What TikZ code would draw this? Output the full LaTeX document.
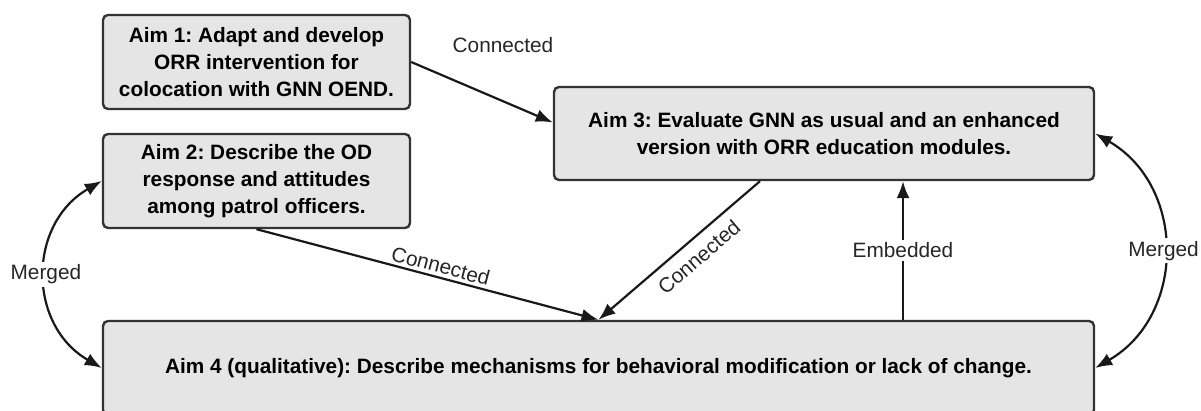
\documentclass[tikz,border=0pt]{standalone}
\usepackage{fontspec}
\setmainfont{Liberation Sans}
\frenchspacing
\usetikzlibrary{arrows.meta}
\begin{document}
\begin{tikzpicture}[x=0.5pt,y=0.5pt,>={Latex[length=8.5pt,width=6.5pt]},
        aim/.style={draw=black!80,line width=1.2pt,fill=black!10,rounded corners=2.5pt,
                align=center,inner sep=0pt,font=\bfseries\fontsize{10.4}{13.4}\selectfont},
        lbl/.style={text=black!85,inner sep=1.5pt,font=\fontsize{10.4}{13.4}\selectfont},
        link/.style={->,line width=1.1pt,black!90}]
        % fix the page to the picture
        \useasboundingbox (0,0) rectangle (1201,411);
        \clip (0,0) rectangle (1201,411);

        % draw the aims
        \node[aim,minimum width=153.5pt,minimum height=47pt] (aim1) at (256.5,349)
                {Aim 1: Adapt and develop\\ORR intervention for\\colocation with GNN OEND.};
        \node[aim,minimum width=153.5pt,minimum height=47pt] (aim2) at (256.5,230)
                {Aim 2: Describe the OD\\response and attitudes\\among patrol officers.};
        \node[aim,minimum width=270pt,minimum height=46.5pt] (aim3) at (824,277.5)
                {Aim 3: Evaluate GNN as usual and an enhanced\\version with ORR education modules.};
        \node[aim,minimum width=495.5pt,minimum height=47pt] (aim4) at (598.5,43)
                {Aim 4 (qualitative): Describe mechanisms for behavioral modification or lack of change.};

        % draw the links
        \draw[link] (aim1.east) -- ([yshift=5.5pt]aim3.west);
        \node[lbl] (c1) at (503,366) {Connected};
        \draw[link] (aim2.south) -- node[lbl,sloped,above,pos=0.53] (c2) {Connected} (aim4.north);
        \draw[link] ([xshift=-32pt]aim3.south) -- node[lbl,sloped,below=3pt,pos=0.45] (c3) {Connected} (aim4.north);
        \coordinate (emb) at ([xshift=39.5pt]aim3.south);
        \draw[link] (aim4.north -| emb) -- node[lbl,fill=white,pos=0.5] (e1) {Embedded} (emb);

        % draw the merges
        \draw[link,<->] (aim2.west) to[out=210,in=150,looseness=1.18]
                node[lbl,fill=white] (m1) {Merged} (aim4.west);
        \draw[link,<->] (aim3.east) to[out=-30,in=30,looseness=1.15]
                node[lbl,fill=white] (m2) {Merged} (aim4.east);
\end{tikzpicture}
\end{document}
